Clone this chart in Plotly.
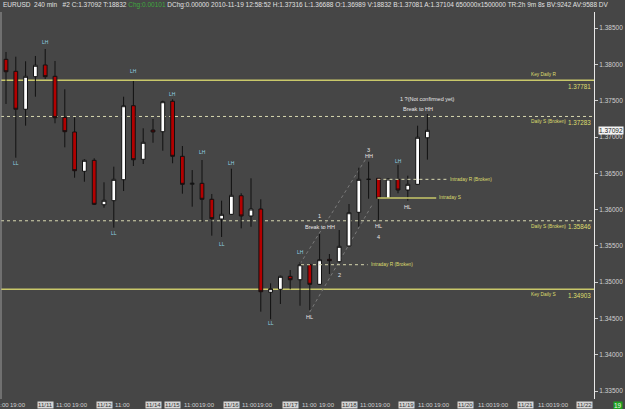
import plotly.graph_objects as go

# ---------------- data ----------------
opens  = [1.38070,1.37905,1.37382,1.37831,1.37992,1.37836,1.37271,1.37069,1.36528,1.36679,
          1.36067,1.36123,1.36412,1.37431,1.36693,1.37096,1.37073,1.37492,1.36734,1.36348,
          1.36362,1.36142,1.35871,1.35935,1.36191,1.35912,1.36008,1.34861,1.34902,1.35081,
          1.35034,1.35241,1.34971,1.35315,1.35282,1.35499,1.35963,1.36417,1.36431,1.36156,
          1.36417,1.36270,1.36348,1.36989]
highs  = [1.38171,1.38106,1.38043,1.38116,1.38212,1.38047,1.37657,1.37271,1.36693,1.36707,
          1.36376,1.36591,1.37555,1.37771,1.37120,1.37248,1.37500,1.37519,1.36876,1.36545,
          1.36683,1.36215,1.36123,1.36563,1.36225,1.36431,1.36142,1.34985,1.35090,1.35168,
          1.35274,1.35255,1.35664,1.35388,1.35719,1.36077,1.36577,1.36660,1.36431,1.36425,
          1.36618,1.36467,1.37156,1.37316]
lows   = [1.37455,1.36715,1.37156,1.37555,1.37799,1.37189,1.36858,1.36439,1.36384,1.36063,
          1.36026,1.35751,1.36256,1.36601,1.36628,1.36921,1.36811,1.36638,1.36219,1.36040,
          1.35829,1.35641,1.35623,1.35930,1.35742,1.35764,1.34594,1.34489,1.34700,1.34902,
          1.34676,1.34617,1.34965,1.35113,1.35269,1.35495,1.35764,1.36150,1.35857,1.36150,
          1.36225,1.36123,1.36345,1.36688]
closes = [1.37899,1.37382,1.37836,1.37988,1.37831,1.37266,1.37073,1.36536,1.36679,1.36073,
          1.36128,1.36417,1.37431,1.36687,1.36927,1.37069,1.37486,1.36734,1.36348,1.36362,
          1.36142,1.35875,1.35935,1.36197,1.35912,1.36008,1.34869,1.34911,1.35081,1.35034,
          1.35241,1.34971,1.35310,1.35296,1.35494,1.35957,1.36417,1.36417,1.36156,1.36421,
          1.36270,1.36348,1.36996,1.37092]
bar_index = list(range(len(opens)))

# key levels (full width)
level_prices = [1.37781, 1.37283, 1.35846, 1.34903]
level_names  = ["Key Daily R", "Daily S (Broken)", "Daily S (Broken)", "Key Daily S"]
level_solid  = [True, False, False, True]

# intraday segments
seg_names  = ["Intraday R (Broken)", "Intraday R (Broken)", "Intraday S"]
seg_price  = [1.35241, 1.36417, 1.36160]
seg_start  = [30.1, 37.9, 37.9]
seg_end    = [36.9, 45.0, 43.9]
seg_solid  = [False, False, True]

# trend channel (dotted diagonals)
chan_x0 = [30.0, 31.0]
chan_y0 = [1.35251, 1.34590]
chan_x1 = [36.84, 37.35]
chan_y1 = [1.36725, 1.36063]

# swing labels
swing_text  = ["LL","LH","LL","LH","LH","LH","LL","LH","LL","LH","LH"]
swing_idx   = [1, 4, 11, 13, 17, 20, 22, 23, 27, 30, 40]
swing_price = [1.36642,1.38313,1.35682,1.37909,1.37592,1.36793,1.35530,1.36638,1.34438,1.35412,1.36669]

note_text  = ["HL","HL","HL","1","Break to HH","2","3","HH","4","1 ?(Not confirmed yet)","Break to HH"]
note_idx   = [31, 38, 41, 32, 32, 34, 37, 37, 38, 43, 42]
note_price = [1.34525,1.35778,1.36040,1.35912,1.35764,1.35099,1.36821,1.36734,1.35627,1.37519,1.37390]

# x axis labels
xl_idx  = [-0.45, 1.2, 4.0, 5.85, 7.5, 10.0, 11.9, 15.0, 17.0, 18.95, 20.55, 23.0, 24.85, 26.45, 29.0,
           30.95, 32.8, 35.0, 36.85, 38.45, 40.9, 42.85, 44.45, 46.9, 48.95, 50.55, 53.0, 55.0, 56.6, 59.0]
xl_text = ["11:00","19:00","11/11","11:00","19:00","11/12","11:00","11/14","11/15","11:00","19:00",
           "11/16","11:00","19:00","11/17","11:00","19:00","11/18","11:00","19:00","11/19","11:00",
           "19:00","11/20","11:00","19:00","11/21","11:00","19:00","11/22"]

y_ticks = [1.335, 1.340, 1.345, 1.350, 1.355, 1.360, 1.365, 1.370, 1.375, 1.380, 1.385]
last_price = 1.37092

# ---------------- styling ----------------
BG = "#464646"
YEL = "#c9c86a"
YEL_TXT = "#dede6e"
DOT = "#d8d8b0"
FONT = "Liberation Sans"

fig = go.Figure()
fig.add_trace(go.Candlestick(
    x=bar_index, open=opens, high=highs, low=lows, close=closes,
    increasing=dict(fillcolor="#ffffff", line=dict(color="#111111", width=1)),
    decreasing=dict(fillcolor="#b30000", line=dict(color="#111111", width=1)),
    whiskerwidth=0, showlegend=False, hoverinfo="skip"))

shapes = []
annotations = []

for p, name, solid in zip(level_prices, level_names, level_solid):
    shapes.append(dict(type="line", xref="paper", x0=0, x1=1, yref="y", y0=p, y1=p,
                       line=dict(color=YEL if solid else DOT, width=1.5 if solid else 1,
                                 dash="solid" if solid else "dot"), layer="below"))
    is_r = name.endswith("R")
    annotations.append(dict(xref="x", yref="y", x=53.4, y=p, text=name, showarrow=False,
                            xanchor="left", yanchor="bottom" if is_r else "top",
                            yshift=1 if is_r else -1,
                            font=dict(family=FONT, size=4.8, color=YEL_TXT)))
    annotations.append(dict(xref="paper", yref="y", x=0.998, y=p, text=f"{p:.5f}", showarrow=False,
                            xanchor="right", yanchor="top", yshift=-0.5,
                            font=dict(family=FONT, size=6.3, color=YEL_TXT)))

for name, p, x0, x1, solid in zip(seg_names, seg_price, seg_start, seg_end, seg_solid):
    shapes.append(dict(type="line", xref="x", yref="y", x0=x0, x1=x1, y0=p, y1=p,
                       line=dict(color=YEL if solid else DOT, width=1.5 if solid else 1,
                                 dash="solid" if solid else "dot")))
    annotations.append(dict(xref="x", yref="y", x=x1 + 0.1, y=p, text=name, showarrow=False,
                            xanchor="left", yanchor="middle",
                            font=dict(family=FONT, size=4.8, color=YEL_TXT)))

for x0, y0, x1, y1 in zip(chan_x0, chan_y0, chan_x1, chan_y1):
    shapes.append(dict(type="line", xref="x", yref="y", x0=x0, y0=y0, x1=x1, y1=y1,
                       line=dict(color="#7a7a7a", width=1, dash="dot"), layer="below"))

for t, i, p in zip(swing_text, swing_idx, swing_price):
    annotations.append(dict(xref="x", yref="y", x=i, y=p, text=t, showarrow=False,
                            font=dict(family=FONT, size=5, color="#8fd3e3")))
for t, i, p in zip(note_text, note_idx, note_price):
    annotations.append(dict(xref="x", yref="y", x=i, y=p, text=t, showarrow=False,
                            font=dict(family=FONT, size=5.5, color="#e6e6e6")))

# x-axis labels
for i, t in zip(xl_idx, xl_text):
    is_date = "/" in t
    annotations.append(dict(xref="x", yref="paper", x=i, y=-0.004, text=t, showarrow=False,
                            yanchor="top", borderpad=0,
                            bgcolor="#d6d6d6" if is_date else None,
                            font=dict(family=FONT, size=6, color="#333333" if is_date else "#d0d0d0")))

# current price marker
annotations.append(dict(xref="paper", yref="y", x=1.006, y=last_price, text=f"{last_price:.5f}",
                        showarrow=False, xanchor="left", yanchor="middle", bgcolor="#f4f4f4",
                        borderpad=0, font=dict(family=FONT, size=6.5, color="#222222")))
# countdown box
annotations.append(dict(xref="paper", yref="paper", x=1.04, y=-0.004, text="19", showarrow=False,
                        xanchor="center", yanchor="top", bgcolor="#1fa31f", borderpad=0,
                        font=dict(family=FONT, size=6.5, color="#f0f0f0")))

# header
header = ("EURUSD  240 min   #2 C:1.37092 T:18832 <span style='color:#3fa83f'>Chg:0.00101</span> "
          "DChg:0.00000 2010-11-19 12:58:52 H:1.37316 L:1.36688 O:1.36989 V:18832 B:1.37081 "
          "A:1.37104 650000x1500000 TR:2h 9m 8s BV:9242 AV:9588 DV")
annotations.append(dict(xref="paper", yref="paper", x=0.0, y=1.017, text=header, showarrow=False,
                        xanchor="left", yanchor="middle",
                        font=dict(family=FONT, size=6.5, color="#e0e0e0")))

fig.update_layout(
    width=625, height=409,
    margin=dict(l=1, r=31, t=12, b=10),
    paper_bgcolor=BG, plot_bgcolor=BG,
    shapes=shapes, annotations=annotations,
    showlegend=False, boxgap=0.45,
    xaxis=dict(range=[-0.51, 60.0], showgrid=False, zeroline=False, showticklabels=False,
               rangeslider=dict(visible=False), showline=False, fixedrange=True),
    yaxis=dict(range=[1.333912, 1.387218], side="right", showgrid=False, zeroline=False,
               tickvals=y_ticks, tickformat=".5f", ticks="outside", ticklen=3, tickcolor="#d0d0d0",
               showline=True, linecolor="#e8e8e8", linewidth=1,
               tickfont=dict(family=FONT, size=6.5, color="#d0d0d0")),
)
# left border
fig.add_shape(type="line", xref="paper", yref="paper", x0=0, x1=0, y0=0, y1=1,
              line=dict(color="#9a9a9a", width=1))

fig.write_html("out.html")
